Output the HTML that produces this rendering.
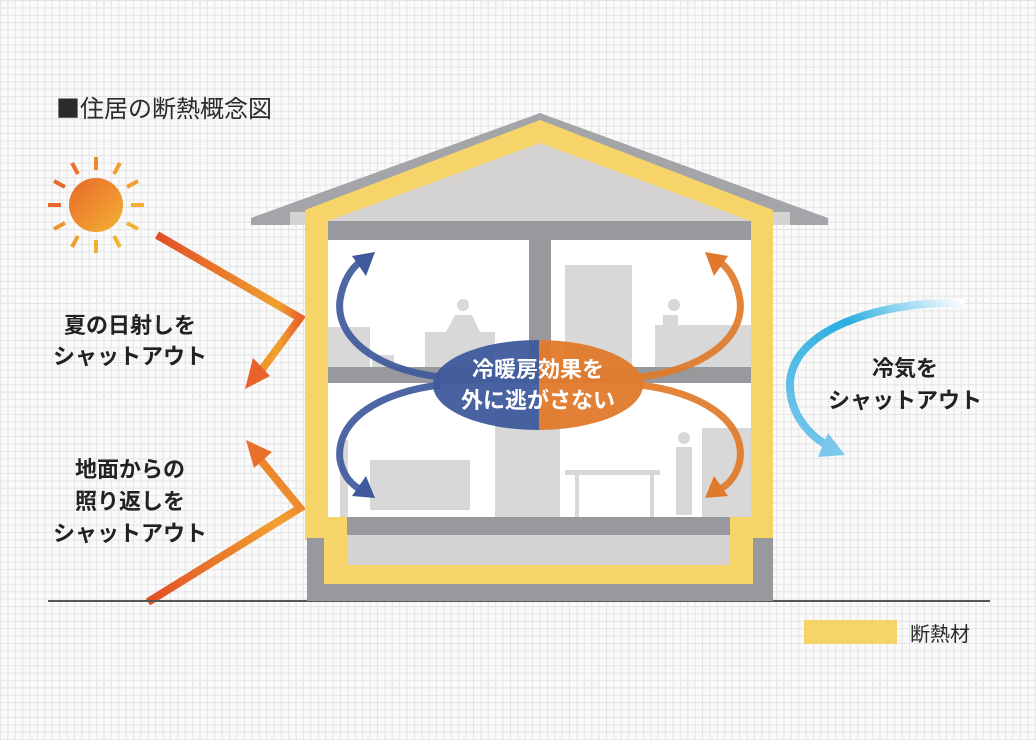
<!DOCTYPE html>
<html><head><meta charset="utf-8"><style>
html,body{margin:0;padding:0}
body{width:1036px;height:740px;overflow:hidden;background-color:#fafafa;
background-image:linear-gradient(#e4e4e4 1px,transparent 1px),linear-gradient(90deg,#e4e4e4 1px,transparent 1px);
background-size:7.4px 7.4px;font-family:"Liberation Sans","Noto Sans CJK JP",sans-serif}
svg{position:absolute;left:0;top:0}
</style></head><body>
<svg width="1036" height="740" viewBox="0 0 1036 740" xmlns="http://www.w3.org/2000/svg">
<defs>
<linearGradient id="sun" x1="0" y1="0" x2="1" y2="1"><stop offset="0" stop-color="#e8672a"/><stop offset="1" stop-color="#f2b233"/></linearGradient>
<linearGradient id="ray1" x1="0" y1="0" x2="1" y2="0"><stop offset="0" stop-color="#e24e26"/><stop offset="0.85" stop-color="#f0a030"/><stop offset="1" stop-color="#e8622a"/></linearGradient>
<linearGradient id="ray2" x1="0" y1="1" x2="1" y2="0"><stop offset="0" stop-color="#e24e26"/><stop offset="0.7" stop-color="#f0a030"/><stop offset="1" stop-color="#e8702a"/></linearGradient>
<linearGradient id="cold" x1="1" y1="0" x2="0" y2="1"><stop offset="0" stop-color="#ffffff"/><stop offset="0.4" stop-color="#2aaee0"/><stop offset="1" stop-color="#7cc8ec"/></linearGradient>
</defs>

<text x="56" y="117" font-size="24" fill="#2b2b2b" font-family="Liberation Sans,Noto Sans CJK JP,sans-serif"><tspan font-family="Noto Sans CJK JP,sans-serif">■</tspan>住居の断熱概念図</text>

<!-- sun -->
<circle cx="96" cy="205" r="27" fill="url(#sun)"/>
<g stroke-width="4" stroke-linecap="butt">
<line x1="96" y1="157" x2="96" y2="170" stroke="#ec8a2c"/>
<line x1="96" y1="240" x2="96" y2="253" stroke="#f2ad33"/>
<line x1="48" y1="205" x2="61" y2="205" stroke="#e8672a"/>
<line x1="131" y1="205" x2="144" y2="205" stroke="#f2ad33"/>
<line x1="72" y1="163" x2="78" y2="174" stroke="#e8752a"/>
<line x1="120" y1="163" x2="114" y2="174" stroke="#f0a030"/>
<line x1="72" y1="247" x2="78" y2="236" stroke="#f0a030"/>
<line x1="120" y1="247" x2="114" y2="236" stroke="#f2b233"/>
<line x1="54" y1="181" x2="65" y2="187" stroke="#e8672a"/>
<line x1="138" y1="181" x2="127" y2="187" stroke="#f0a030"/>
<line x1="54" y1="229" x2="65" y2="223" stroke="#ee9530"/>
<line x1="138" y1="229" x2="127" y2="223" stroke="#f2b233"/>
</g>

<!-- sun ray arrows -->
<polyline points="157,235 300,318 260,372" fill="none" stroke="url(#ray1)" stroke-width="8"/>
<polygon points="245,389 253,358 270,376" fill="#e8622a"/>
<polyline points="148,602 300,508 258,457" fill="none" stroke="url(#ray2)" stroke-width="8"/>
<polygon points="246,440 272,452 254,468" fill="#e8702a"/>

<g font-size="22" font-weight="bold" fill="#222" text-anchor="middle">
<text x="130" y="333">夏の日射しを</text>
<text x="130" y="364">シャットアウト</text>
<text x="130" y="477">地面からの</text>
<text x="130" y="509">照り返しを</text>
<text x="130" y="541">シャットアウト</text>
<text x="905" y="376">冷気を</text>
<text x="905" y="408">シャットアウト</text>
</g>

<!-- cold arrow -->
<path d="M965,303 C880,300 790,330 790,385 C790,415 810,437 832,448" fill="none" stroke="url(#cold)" stroke-width="8"/>
<polygon points="818,457 845,455 828,433" fill="#7cc8ec"/>

<!-- ground -->
<line x1="48" y1="601" x2="990" y2="601" stroke="#555" stroke-width="2"/>
<rect x="804" y="620" width="93" height="24" fill="#f7d46a"/>
<text x="910" y="641" font-size="20" fill="#2a2a2a">断熱材</text>

<!-- house -->
<polygon points="540,113 828,218 828,225 251,225 251,218" fill="#a3a5a8"/>
<rect x="290" y="212" width="500" height="13" fill="#d6d3d3"/>
<polygon points="540,120 773,210 773,540 305,540 305,210" fill="#f7d46a"/>
<polygon points="540,143 751,221 328,221" fill="#d6d3d3"/>
<rect x="328" y="221" width="423" height="19" fill="#97999c"/>
<rect x="328" y="240" width="423" height="277" fill="#ffffff"/>
<!-- foundation -->
<rect x="307" y="538" width="466" height="63" fill="#97999c"/>
<rect x="324" y="517" width="429" height="67" fill="#f7d46a"/>
<rect x="347" y="535" width="383" height="30" fill="#d6d3d3"/>
<rect x="347" y="517" width="383" height="18" fill="#97999c"/>

<!-- furniture silhouettes -->
<g fill="#d8d8d8">
<rect x="565" y="265" width="67" height="102"/>
<rect x="328" y="327" width="42" height="40"/>
<rect x="372" y="355" width="22" height="12"/>
<rect x="425" y="332" width="70" height="35"/>
<circle cx="463" cy="305" r="6"/>
<polygon points="446,332 455,315 472,315 480,332"/>
<rect x="655" y="325" width="96" height="42"/>
<circle cx="674" cy="305" r="6"/>
<rect x="663" y="315" width="15" height="30"/>
<rect x="370" y="460" width="100" height="50"/>
<rect x="495" y="410" width="65" height="107"/>
<rect x="565" y="470" width="95" height="5"/>
<rect x="575" y="475" width="4" height="42"/><rect x="650" y="475" width="4" height="42"/>
<circle cx="543" cy="456" r="6"/>
<rect x="535" y="465" width="17" height="50"/>
<rect x="702" y="428" width="49" height="89"/>
<circle cx="684" cy="438" r="6"/>
<rect x="676" y="447" width="16" height="68"/>
<rect x="340" y="440" width="8" height="77"/>
</g>
<rect x="529" y="240" width="22" height="127" fill="#97999c"/>
<rect x="328" y="367" width="423" height="16" fill="#97999c"/>

<!-- circulation arrows -->
<g fill="none" stroke-width="7" opacity="0.92">
<path d="M440,377 C380,370 335,340 340,300 C343,280 352,268 360,262" stroke="#3f5a9c"/>
<path d="M440,385 C380,392 335,420 340,460 C343,475 350,483 358,488" stroke="#3f5a9c"/>
<path d="M640,377 C700,370 745,340 740,300 C737,280 728,268 720,262" stroke="#e07a2a"/>
<path d="M640,385 C700,392 745,420 740,460 C737,475 730,483 722,488" stroke="#e07a2a"/>
</g>
<polygon points="375,252 352,256 366,276" fill="#3f5a9c"/>
<polygon points="375,498 352,496 366,476" fill="#3f5a9c"/>
<polygon points="705,252 728,256 714,276" fill="#e07a2a"/>
<polygon points="705,498 728,496 714,476" fill="#e07a2a"/>

<!-- center ellipse -->
<clipPath id="lh"><rect x="420" y="330" width="119" height="110"/></clipPath>
<clipPath id="rh"><rect x="539" y="330" width="120" height="110"/></clipPath>
<ellipse cx="538" cy="385" rx="105" ry="45" fill="#3f5a9c" clip-path="url(#lh)" opacity="0.95"/>
<ellipse cx="538" cy="385" rx="105" ry="45" fill="#e07a2a" clip-path="url(#rh)" opacity="0.95"/>
<g font-size="22" font-weight="bold" fill="#ffffff" text-anchor="middle">
<text x="538" y="377">冷暖房効果を</text>
<text x="538" y="408">外に逃がさない</text>
</g>
</svg>
</body></html>
